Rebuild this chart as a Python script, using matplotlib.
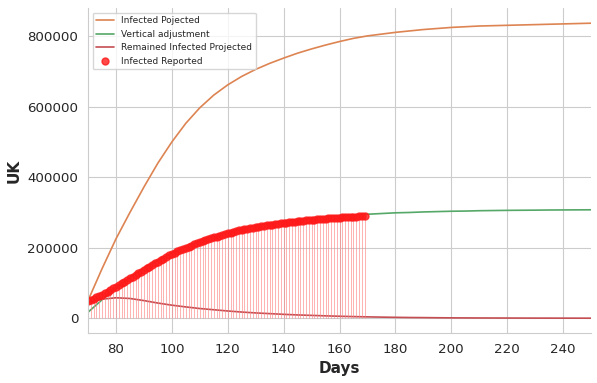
import matplotlib
matplotlib.use("Agg")
import matplotlib.pyplot as plt
import seaborn as sns

# Projected curves, read every 5 days
days_proj = list(range(70, 251, 5))
infected_projected = [50000, 140000, 225000, 300000, 372000, 440000, 500000, 553000,
                      597000, 633000, 662000, 686000, 706000, 723000, 738000, 752000,
                      764000, 775000, 785000, 794000, 801000, 806000, 811000, 815000,
                      819000, 822000, 825000, 827000, 829000, 830000, 831000, 832000,
                      833000, 834000, 835000, 836000, 837000]
vertical_adjustment = [17000, 52000, 86000, 116000, 142000, 165000, 185000, 203000,
                       219000, 233000, 244000, 254000, 262000, 269000, 275000, 280000,
                       284000, 288000, 291000, 293000, 295000, 297000, 299000, 300000,
                       301500, 302500, 303500, 304000, 305000, 305500, 306000, 306300,
                       306600, 307000, 307200, 307400, 307600]
remained_projected = [45000, 54000, 58000, 56000, 50000, 43000, 37000, 32000,
                      27500, 24000, 20500, 17500, 15000, 13000, 11000, 9300,
                      8000, 6700, 5600, 4600, 3800, 3100, 2500, 2000,
                      1700, 1300, 1000, 850, 700, 600, 500, 400,
                      300, 250, 200, 150, 100]

# Reported cumulative infected, daily from day 70 to 169
days_reported = list(range(70, 170))
infected_reported = [
    48000, 51600, 55200, 58900, 62400, 66000, 70300, 75000, 79800, 84400,
    89600, 94000, 98500, 103100, 108500, 113300, 117800, 122100, 127300, 132000,
    137200, 141800, 146300, 150500, 155400, 160000, 164600, 168800, 173400, 178100,
    182000, 185900, 189300, 192600, 196500, 200000, 203200, 206100, 209300, 212400,
    215200, 218000, 220800, 223600, 226300, 229000, 231500, 233800, 236300, 238900,
    241000, 243100, 245200, 247100, 249300, 251000, 252500, 253900, 255400, 256800,
    258100, 259400, 260700, 261800, 263100, 264300, 265500, 266600, 267800, 269000,
    270100, 271100, 272100, 273000, 274000, 275000, 275900, 276800, 277600, 278400,
    279200, 279900, 280600, 281300, 281900, 282500, 283100, 283700, 284200, 284800,
    285300, 285800, 286300, 286800, 287300, 287700, 288200, 288600, 289100, 289600,
]

sns.set_style("whitegrid")

fig = plt.figure(figsize=(5.97, 3.83), dpi=100)
ax = fig.add_axes([0.1474, 0.1305, 0.8426, 0.8485])

ax.plot(days_proj, infected_projected, color="#dd8452", lw=1.2, label="Infected Pojected")
ax.plot(days_proj, vertical_adjustment, color="#55a868", lw=1.2, label="Vertical adjustment")
ax.plot(days_proj, remained_projected, color="#c44e52", lw=1.2, label="Remained Infected Projected")

# stems plus markers for reported data
ax.vlines(days_reported, 0, infected_reported, color="#ff8080", lw=0.7, alpha=0.6)
ax.plot(days_reported, infected_reported, "o", color="#ff1a1a", ms=5, alpha=0.8,
        label="Infected Reported")

ax.set_xlim(70, 250)
ax.set_ylim(-42000, 880000)
ax.set_xticks(range(80, 241, 20))
ax.set_yticks(range(0, 800001, 200000))
ax.tick_params(labelsize=9.6, colors="#262626")

ax.set_xlabel("Days", fontsize=11, fontweight="bold")
ax.set_ylabel("UK", fontsize=11, fontweight="bold")

ax.legend(loc="upper left", fontsize=6.5, frameon=True)
sns.despine(ax=ax)

fig.savefig("out.png", dpi=100)
